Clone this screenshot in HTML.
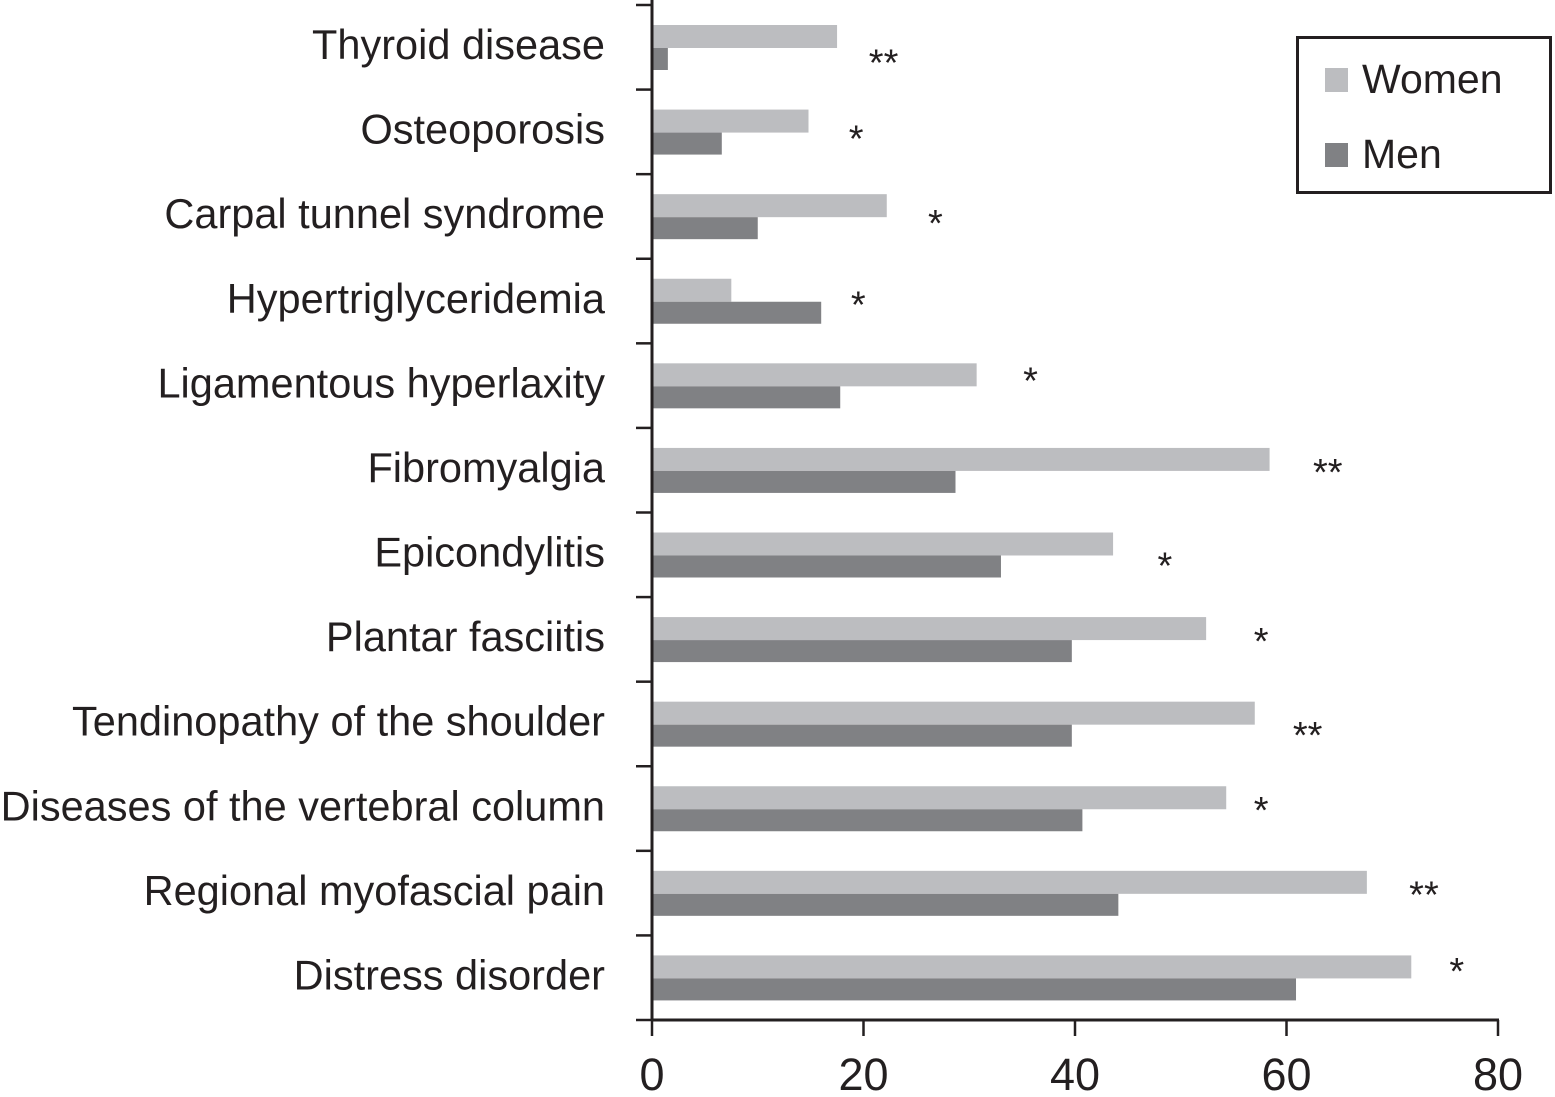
<!DOCTYPE html>
<html><head><meta charset="utf-8"><style>
html,body{margin:0;padding:0;background:#fff;}
svg{display:block;font-family:"Liberation Sans",Arial,sans-serif;}
</style></head><body>
<svg id="chart" width="1555" height="1097" viewBox="0 0 1555 1097" xmlns="http://www.w3.org/2000/svg"></svg>
<script>
const categories=["Thyroid disease","Osteoporosis","Carpal tunnel syndrome","Hypertriglyceridemia","Ligamentous hyperlaxity","Fibromyalgia","Epicondylitis","Plantar fasciitis","Tendinopathy of the shoulder","Diseases of the vertebral column","Regional myofascial pain","Distress disorder"];
const women=[17.5,14.8,22.2,7.5,30.7,58.4,43.6,52.4,57.0,54.3,67.6,71.8];
const men=[1.5,6.6,10.0,16.0,17.8,28.7,33.0,39.7,39.7,40.7,44.1,60.9];
const sigMarks=["**","*","*","*","*","**","*","*","**","*","**","*"];
const sigPos=[21.9,19.3,26.8,19.5,35.8,63.9,48.5,57.6,62.0,57.6,73.0,76.1];
const sigYOff=[0.62,0.52,0.52,0.48,0.38,0.46,0.57,0.46,0.57,0.46,0.46,0.36];
const xTicks=[0,20,40,60,80];
const NS="http://www.w3.org/2000/svg";
const svg=document.getElementById('chart');
const x0=652,x1=1498,yTop=5,yBot=1020;
const xs=v=>x0+(v-0)/(80-0)*(x1-x0);
const band=(yBot-yTop)/categories.length;
const bandY=i=>yTop+i*band;
function el(t,a,txt){const e=document.createElementNS(NS,t);for(const k in a)e.setAttribute(k,a[k]);if(txt!==undefined)e.textContent=txt;svg.appendChild(e);return e;}
categories.forEach((c,i)=>{
  const y=bandY(i);
  const w=el('rect',{x:x0,y:y+20,width:xs(women[i])-x0,height:23,fill:'#bcbdc0'});
  
  
  const m=el('rect',{x:x0,y:y+43,width:xs(men[i])-x0,height:22,fill:'#808184'});
  
  
  const l=el('text',{x:605,y:y+54,'text-anchor':'end','font-size':41.5,fill:'#231f20'},c);
  
  
  const s=el('text',{x:xs(sigPos[i]),y:y+band*sigYOff[i]+18,'text-anchor':'middle','font-size':38,fill:'#231f20'},sigMarks[i]);
  
  
});
for(let i=0;i<=categories.length;i++){
  const t=el('line',{x1:636,x2:x0,y1:bandY(i),y2:bandY(i),stroke:'#231f20','stroke-width':2.5});
  
  
}
const ya=el('line',{x1:x0,x2:x0,y1:0,y2:yBot+1,stroke:'#231f20','stroke-width':3});


const xa=el('line',{x1:x0-1,x2:x1+1,y1:yBot,y2:yBot,stroke:'#231f20','stroke-width':3});


xTicks.forEach(v=>{
  const t=el('line',{x1:xs(v),x2:xs(v),y1:yBot,y2:yBot+16,stroke:'#231f20','stroke-width':2.5});
  
  
  const l=el('text',{x:xs(v),y:1090,'text-anchor':'middle','font-size':45,fill:'#231f20'},String(v));
  
  
});
const lg=el('rect',{x:1297.5,y:37.5,width:253,height:155,fill:'#fff',stroke:'#231f20','stroke-width':3});


const s1=el('rect',{x:1325,y:68,width:23,height:24,fill:'#bcbdc0'});


const t1=el('text',{x:1362,y:93,'font-size':41,fill:'#231f20'},'Women');


const s2=el('rect',{x:1325,y:143,width:23,height:24,fill:'#808184'});


const t2=el('text',{x:1362,y:168,'font-size':41,fill:'#231f20'},'Men');


</script>
</body></html>
